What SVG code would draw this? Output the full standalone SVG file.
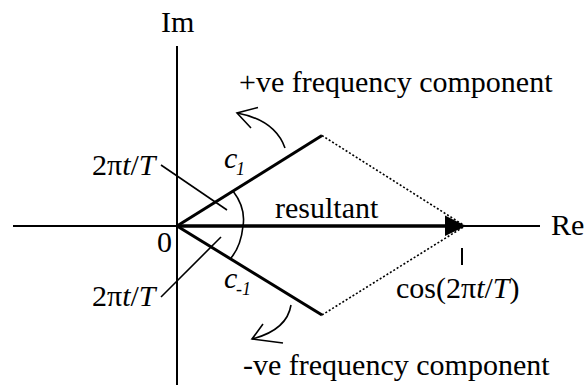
<svg xmlns="http://www.w3.org/2000/svg" width="585" height="385" viewBox="0 0 585 385">
<style>
text{font-size:30px;fill:#000}
.it{font-style:italic}
.sub{font-size:18px;font-style:italic}
.ax{stroke:#000;stroke-width:2;fill:none}
.vec{stroke:#000;stroke-width:3;fill:none}
.thin{stroke:#000;stroke-width:1.6;fill:none}
.dot{stroke:#000;stroke-width:1.6;stroke-dasharray:2 2;fill:none}
</style>
<g id="connectors">
<line id="im-axis" class="ax" x1="177" y1="46" x2="177" y2="385"/>
<line id="re-axis" class="ax" x1="13" y1="226" x2="540" y2="226"/>
<line id="c1" class="vec" x1="177" y1="226" x2="322" y2="135.5"/>
<line id="cm1" class="vec" x1="177" y1="226" x2="322" y2="315"/>
<line class="dot" x1="322" y1="135.5" x2="465" y2="226"/>
<line class="dot" x1="322" y1="315" x2="465" y2="226"/>
<line id="resultant" stroke="#000" stroke-width="3.5" x1="177" y1="226" x2="448" y2="226"/>
<polygon points="445,215.5 466,226 445,236" fill="#000"/>
<line class="ax" x1="462" y1="248" x2="462" y2="265"/>
<line class="thin" x1="161" y1="165" x2="227" y2="210"/>
<line class="thin" x1="161" y1="297" x2="221" y2="237"/>
<path class="thin" d="M233 191 Q246 208 243 226 Q241 246 231 258"/>
<path class="thin" d="M285 148 Q275 120 237 113"/>
<path class="thin" d="M258 107.5 L237 113 L251 128"/>
<path class="thin" d="M291 305 Q287 330 252 339"/>
<path class="thin" d="M263 324 L252 339 L283 343"/>
</g>
<g font-family="Liberation Serif, DejaVu Serif, serif">
<g id="label-im"><text x="161" y="32">Im</text></g>
<g id="label-re"><text x="551" y="235">Re</text></g>
<g id="label-zero"><text x="157" y="252">0</text></g>
<g id="label-pos"><text x="239" y="92">+ve frequency component</text></g>
<g id="label-neg"><text x="243" y="375">-ve frequency component</text></g>
<g id="label-resultant"><text x="275" y="218">resultant</text></g>
<g id="label-cos"><text x="396" y="298">cos(2π<tspan class="it">t</tspan>/<tspan class="it">T</tspan>)</text></g>
<g id="label-angle-up"><text x="92" y="175">2π<tspan class="it">t</tspan>/<tspan class="it">T</tspan></text></g>
<g id="label-angle-down"><text x="92" y="306">2π<tspan class="it">t</tspan>/<tspan class="it">T</tspan></text></g>
<g id="label-c1"><text x="224" y="168" class="it">c</text><text x="236" y="175" class="sub">1</text></g>
<g id="label-cm1"><text x="224" y="288" class="it">c</text><text x="236" y="295" class="sub">-1</text></g>
</g>
</svg>
